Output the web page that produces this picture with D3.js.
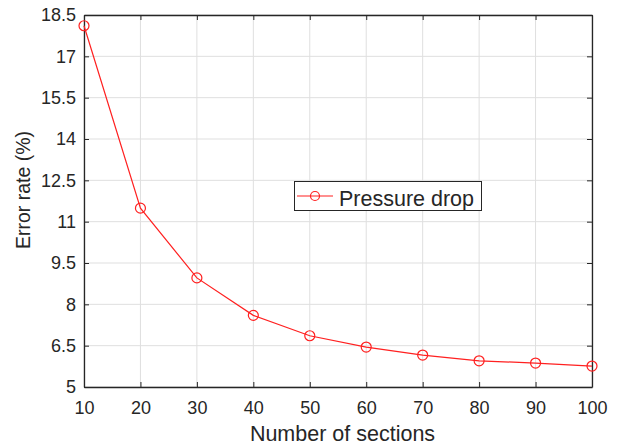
<!DOCTYPE html>
<html><head><meta charset="utf-8">
<script src="https://cdn.jsdelivr.net/npm/d3@7"></script>
<style>body{margin:0;background:#fff;} svg{display:block;}</style>
</head><body>
<script>
const sections = [10, 20, 30, 40, 50, 60, 70, 80, 90, 100];
const errorRate = [18.11, 11.49, 8.96, 7.6, 6.86, 6.45, 6.16, 5.95, 5.87, 5.76];
const xTicks = [10, 20, 30, 40, 50, 60, 70, 80, 90, 100];
const yTicks = [5, 6.5, 8, 9.5, 11, 12.5, 14, 15.5, 17, 18.5];
const seriesName = "Pressure drop";
const xLabel = "Number of sections";
const yLabel = "Error rate (%)";

const W = 619, H = 445;
const L = 84, R = 592, T = 15, B = 387;
const svg = d3.select("body").append("svg").attr("width", W).attr("height", H);
const x = d3.scaleLinear().domain([10, 100]).range([L, R]);
const y = d3.scaleLinear().domain([5, 18.5]).range([B, T]);
const font = "Liberation Sans, Arial, sans-serif";
const ink = "#262626";

// grid
svg.append("g").selectAll("line.gx").data(xTicks).join("line")
  .attr("x1", d => x(d)).attr("x2", d => x(d)).attr("y1", T).attr("y2", B)
  .attr("stroke", "#dfdfdf").attr("stroke-width", 1);
svg.append("g").selectAll("line.gy").data(yTicks).join("line")
  .attr("y1", d => y(d)).attr("y2", d => y(d)).attr("x1", L).attr("x2", R)
  .attr("stroke", "#dfdfdf").attr("stroke-width", 1);

// axes (ticks inward, box)
const tl = 5;
const gx = svg.append("g").attr("transform", `translate(0,${B})`)
  .call(d3.axisBottom(x).tickValues(xTicks).tickSizeInner(-tl).tickSizeOuter(0).tickPadding(14));
const gxt = svg.append("g").attr("transform", `translate(0,${T})`)
  .call(d3.axisTop(x).tickValues(xTicks).tickSizeInner(-tl).tickSizeOuter(0).tickFormat(""));
const gy = svg.append("g").attr("transform", `translate(${L},0)`)
  .call(d3.axisLeft(y).tickValues(yTicks).tickSizeInner(-tl).tickSizeOuter(0).tickPadding(8).tickFormat(d3.format("")));
const gyr = svg.append("g").attr("transform", `translate(${R},0)`)
  .call(d3.axisRight(y).tickValues(yTicks).tickSizeInner(-tl).tickSizeOuter(0).tickFormat(""));
[gx, gxt, gy, gyr].forEach(g => {
  g.selectAll("path").attr("stroke", ink).attr("stroke-width", 1.3);
  g.selectAll(".tick line").attr("stroke", ink).attr("stroke-width", 1);
  g.selectAll("text").attr("fill", ink).attr("font-family", font).attr("font-size", 18);
});

// line
const pts = sections.map((s, i) => [s, errorRate[i]]);
svg.append("path").datum(pts)
  .attr("fill", "none").attr("stroke", "#ff2020").attr("stroke-width", 1.2)
  .attr("d", d3.line().x(d => x(d[0])).y(d => y(d[1])));
svg.append("g").selectAll("circle").data(pts).join("circle")
  .attr("cx", d => x(d[0])).attr("cy", d => y(d[1])).attr("r", 5)
  .attr("fill", "none").attr("stroke", "#ff2020").attr("stroke-width", 1.2);

// labels
svg.append("text").attr("x", 342.5).attr("y", 441).attr("text-anchor", "middle")
  .attr("font-family", font).attr("font-size", 21.5).attr("fill", ink).text(xLabel);
svg.append("text").attr("transform", `translate(30,190) rotate(-90)`).attr("text-anchor", "middle")
  .attr("font-family", font).attr("font-size", 19.5).attr("fill", ink).text(yLabel);

// legend
const lg = svg.append("g");
lg.append("rect").attr("x", 294.5).attr("y", 181.5).attr("width", 187).attr("height", 29)
  .attr("fill", "#fff").attr("stroke", ink).attr("stroke-width", 1);
lg.append("line").attr("x1", 297).attr("x2", 333).attr("y1", 196).attr("y2", 196)
  .attr("stroke", "#ff2020").attr("stroke-width", 1.2);
lg.append("circle").attr("cx", 315).attr("cy", 196).attr("r", 4.5)
  .attr("fill", "none").attr("stroke", "#ff2020").attr("stroke-width", 1.2);
lg.append("text").attr("x", 339).attr("y", 205.5).attr("font-family", font).attr("font-size", 21.5)
  .attr("fill", ink).text(seriesName);
</script>
</body></html>
